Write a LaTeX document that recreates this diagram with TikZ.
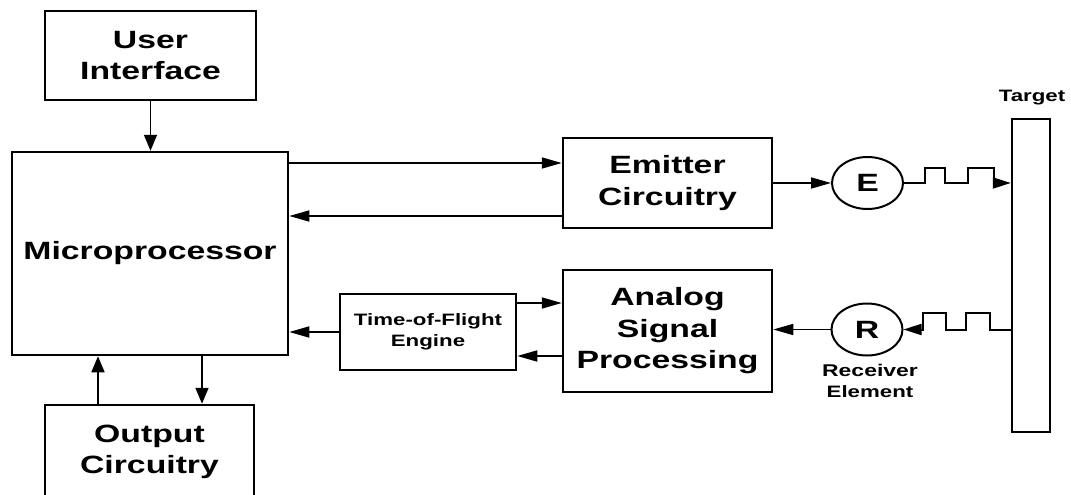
\documentclass[tikz,border=0pt]{standalone}
\usepackage{fontspec}
\setmainfont{Liberation Sans}[FakeStretch=1.35]
\usetikzlibrary{arrows.meta,shapes.geometric}
\newcommand{\bigtxt}{\fontsize{25}{31.5}\selectfont\bfseries}
\newcommand{\smalltxt}{\fontsize{16.5}{21}\selectfont\bfseries}
\tikzset{
  blk/.style={draw, line width=2.5pt, align=center, inner sep=0pt, font=\bigtxt},
  sensor/.style={draw, ellipse, line width=2pt, minimum width=71pt, minimum height=52pt,
    inner sep=0pt, font=\bigtxt},
  arr/.style={line width=1.7pt, -{Triangle[length=20pt,width=11pt]}},
  varr/.style={line width=1.7pt, -{Triangle[length=16pt,width=13pt]}},
  wave/.style={line width=2pt, -{Triangle[length=18pt,width=11pt]}}
}
\begin{document}
\begin{tikzpicture}[x=1pt,y=-1pt]
  \useasboundingbox (0,0) rectangle (1071,495);
  \node[blk, minimum width=211pt, minimum height=89pt] (ui) at (150.5,55.5) {User\\Interface};
  \node[blk, minimum width=276pt, minimum height=203pt] (micro) at (150,253.5) {Microprocessor};
  \node[blk, minimum width=209pt, minimum height=94pt] (out) at (149.5,452) {Output\\Circuitry};
  \node[blk, minimum width=209pt, minimum height=90pt] (emit) at (667.5,183) {Emitter\\Circuitry};
  \node[blk, minimum width=209pt, minimum height=122pt] (asp) at (667.5,331) {Analog\\Signal\\Processing};
  \node[blk, font=\smalltxt, minimum width=176pt, minimum height=76pt] (tof) at (428,332) {Time-of-Flight\\Engine};
  \node[sensor] (ecirc) at (867.5,183) {E};
  \node[sensor] (rcirc) at (867,329.5) {R};
  \node[draw, line width=2.5pt, minimum width=38pt, minimum height=313pt, inner sep=0pt] (target) at (1031,275.5) {};
  \node[font=\smalltxt] (tlabel) at (1032,98) {Target};
  \node[font=\smalltxt, align=center] (rlabel) at (870,381) {\fontsize{17}{19}\selectfont Receiver\\Element};

  \coordinate (o1) at ([xshift=-51.5pt]out.north);
  \coordinate (o2) at ([xshift=52.5pt]out.north);
  \draw[varr] (ui.south) -- (ui.south |- micro.north);
  \draw[varr] (o1) -- (o1 |- micro.south);
  \draw[varr] (o2 |- micro.south) -- (o2);

  \coordinate (e1) at ([yshift=20pt]emit.west);
  \coordinate (e2) at ([yshift=-33pt]emit.west);
  \draw[arr] (micro.east |- e1) -- (e1);
  \draw[arr] (e2) -- (micro.east |- e2);

  \coordinate (t1) at ([yshift=29pt]tof.east);
  \coordinate (t2) at ([yshift=-24pt]tof.east);
  \draw[arr] (tof.west) -- (tof.west -| micro.east);
  \draw[arr] (t1) -- (t1 -| asp.west);
  \draw[arr] (t2 -| asp.west) -- (t2);

  \draw[arr] (emit.east) -- (ecirc.west);
  \draw[arr] (rcirc.west) -- (rcirc.west -| asp.east);

  \draw[wave] (ecirc.east) -- ++(21,0) -- ++(0,-15) -- ++(20,0) -- ++(0,15) -- ++(23,0)
    -- ++(0,-15) -- ++(26,0) -- ++(0,15) -- (ecirc.east -| target.west);
  \draw[wave] (rcirc.east -| target.west) -- ++(-21,0) -- ++(0,-17) -- ++(-24,0) -- ++(0,17)
    -- ++(-20,0) -- ++(0,-17) -- ++(-23,0) -- ++(0,17) -- (rcirc.east);
\end{tikzpicture}
\end{document}
